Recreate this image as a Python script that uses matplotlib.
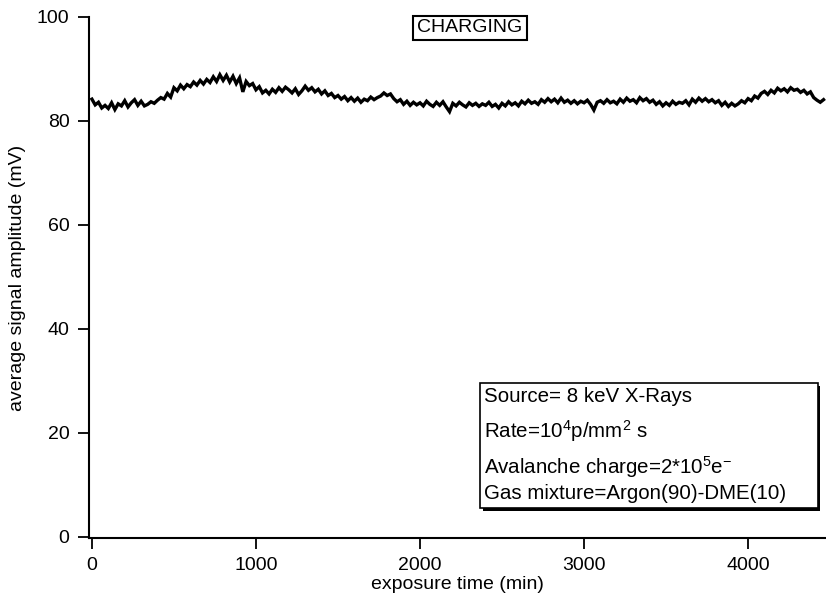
import numpy as np
import matplotlib.pyplot as plt
from matplotlib.patches import Rectangle

plt.rcParams['font.family'] = ['Liberation Sans', 'DejaVu Sans']
plt.rcParams['mathtext.fontset'] = 'custom'
plt.rcParams['mathtext.rm'] = 'Liberation Sans'
plt.rcParams['mathtext.it'] = 'Liberation Sans'

# exposure time sampled every 20 min
time_min = np.arange(0, 4480, 20)

# average signal amplitude (mV)
amplitude_mv = [
    84.2, 83.1, 83.6, 82.5, 83.0, 82.4, 83.5, 82.2, 83.3, 82.9,
    83.9, 82.7, 83.5, 84.1, 83.0, 83.8, 82.9, 83.2, 83.7, 83.4,
    84.0, 84.5, 84.2, 85.3, 84.6, 86.4, 85.8, 86.9, 86.2, 87.0,
    86.6, 87.5, 86.9, 87.8, 87.1, 88.0, 87.4, 88.5, 87.6, 88.9,
    87.8, 88.8, 87.5, 88.6, 87.2, 88.3, 85.6, 87.6, 86.8, 87.2,
    86.0, 86.6, 85.4, 85.9, 85.2, 86.1, 85.5, 86.4, 85.7, 86.5,
    86.0, 85.4, 86.2, 85.1, 85.8, 86.7, 85.9, 86.4, 85.6, 86.1,
    85.2, 85.8, 84.9, 85.3, 84.5, 84.9, 84.2, 84.7, 83.9, 84.5,
    83.8, 84.4, 83.6, 84.2, 83.9, 84.6, 84.1, 84.5, 84.8, 85.4,
    84.9, 85.2, 84.3, 83.7, 84.1, 83.2, 83.8, 83.0, 83.6, 83.1,
    83.5, 82.9, 83.8, 83.2, 82.8, 83.6, 83.0, 83.7, 82.7, 81.8,
    83.4, 82.9, 83.6, 83.1, 82.7, 83.5, 83.0, 83.4, 82.8, 83.3,
    83.0, 83.6, 82.8, 83.2, 82.5, 83.4, 82.9, 83.7, 83.1, 83.5,
    82.9, 83.8, 83.3, 84.0, 83.4, 83.7, 83.2, 84.1, 83.6, 84.3,
    83.7, 84.2, 83.5, 84.4, 83.6, 84.0, 83.4, 83.9, 83.3, 83.8,
    83.5, 84.0, 83.2, 82.1, 83.6, 83.9, 83.4, 84.1, 83.5, 83.8,
    83.3, 84.2, 83.6, 84.4, 83.8, 84.1, 83.5, 84.5, 83.9, 84.3,
    83.6, 84.0, 83.2, 83.7, 82.9, 83.5, 83.0, 83.8, 83.2, 83.6,
    83.4, 83.9, 83.1, 84.2, 83.6, 84.4, 83.8, 84.3, 83.7, 84.1,
    83.5, 83.9, 83.0, 83.6, 82.8, 83.4, 82.9, 83.3, 83.9, 83.5,
    84.3, 83.9, 84.8, 84.4, 85.3, 85.7, 85.1, 85.9, 85.4, 86.3,
    85.8, 86.2, 85.6, 86.4, 85.9, 86.1, 85.5, 85.9, 85.2, 85.6,
    84.5, 84.0, 83.6, 84.1,
]

x_ticks = [0, 1000, 2000, 3000, 4000]
y_ticks = [0, 20, 40, 60, 80, 100]

info_lines = [
    "Source= 8 keV X-Rays",
    r"Rate=10$^4$p/mm$^2$ s",
    r"Avalanche charge=2*10$^5$e$^{-}$",
    "Gas mixture=Argon(90)-DME(10)",
]

fig = plt.figure(figsize=(8.26, 6.07), dpi=100)
ax = fig.add_axes([0.1077, 0.1137, 0.8923, 0.8583])

ax.plot(time_min, amplitude_mv, color="black", lw=2.4, solid_joinstyle="miter")

ax.set_xlim(-18, 4475)
ax.set_ylim(-0.2, 100)
ax.set_xticks(x_ticks)
ax.set_yticks(y_ticks)
ax.tick_params(direction="out", length=8, width=1.3, labelsize=14, pad=6)
for s in ["top", "right"]:
    ax.spines[s].set_visible(False)
for s in ["left", "bottom"]:
    ax.spines[s].set_linewidth(1.5)

ax.set_xlabel("exposure time (min)", fontsize=14, labelpad=1)
ax.set_ylabel("average signal amplitude (mV)", fontsize=14, labelpad=8)

# title box
ax.text(0.517, 0.979, "CHARGING", transform=ax.transAxes, ha="center", va="center",
        fontsize=14, bbox=dict(boxstyle="square,pad=0.2", fc="white", ec="black", lw=1.5))

# info box with a drop shadow
ax.add_patch(Rectangle((0.5345, 0.0515), 0.458, 0.240, transform=ax.transAxes,
                       fc="black", ec="none", zorder=3))
ax.add_patch(Rectangle((0.5305, 0.0576), 0.458, 0.240, transform=ax.transAxes,
                       fc="white", ec="black", lw=1.2, zorder=4))
for y, line in zip([0.272, 0.205, 0.137, 0.086], info_lines):
    ax.text(0.536, y, line, transform=ax.transAxes, ha="left", va="center",
            fontsize=14.8, zorder=5)

fig.savefig("out.png", dpi=100)
